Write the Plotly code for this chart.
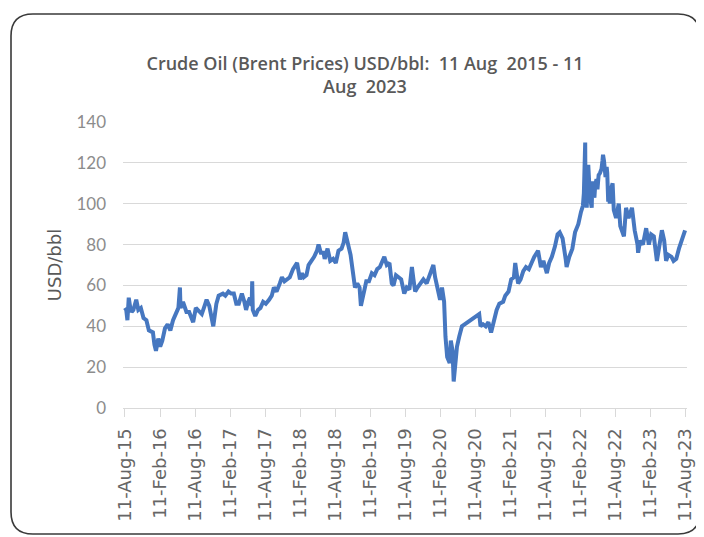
import plotly.graph_objects as go

dates = [
    "2015-08-11", "2015-08-18", "2015-08-24", "2015-08-31", "2015-09-08", "2015-09-15", "2015-09-24",
    "2015-10-05", "2015-10-09", "2015-10-20", "2015-11-02", "2015-11-16", "2015-12-01", "2015-12-14",
    "2016-01-04", "2016-01-12", "2016-01-20", "2016-02-01", "2016-02-11", "2016-02-22", "2016-03-07",
    "2016-03-21", "2016-04-04", "2016-04-18", "2016-05-02", "2016-05-16", "2016-05-24", "2016-05-27",
    "2016-06-09", "2016-06-27", "2016-07-11", "2016-08-01", "2016-08-15", "2016-09-01", "2016-09-15",
    "2016-10-03", "2016-10-10", "2016-10-24", "2016-11-03", "2016-11-14", "2016-11-30", "2016-12-12",
    "2017-01-03", "2017-01-16", "2017-02-01", "2017-02-15", "2017-03-01", "2017-03-14", "2017-03-27",
    "2017-04-12", "2017-04-25", "2017-05-04", "2017-05-15", "2017-05-24", "2017-06-02", "2017-06-05",
    "2017-06-08", "2017-06-21", "2017-07-05", "2017-07-18", "2017-08-01", "2017-08-15", "2017-09-01",
    "2017-09-15", "2017-09-26", "2017-10-10", "2017-10-27", "2017-11-07", "2017-11-20", "2017-12-04",
    "2017-12-18", "2018-01-04", "2018-01-15", "2018-01-25", "2018-02-09", "2018-02-20", "2018-03-01",
    "2018-03-15", "2018-03-26", "2018-04-11", "2018-04-24", "2018-05-09", "2018-05-17", "2018-05-29",
    "2018-06-12", "2018-06-18", "2018-07-03", "2018-07-17", "2018-08-01", "2018-08-15", "2018-08-29",
    "2018-09-14", "2018-09-25", "2018-10-03", "2018-10-17", "2018-10-31", "2018-11-13", "2018-11-23",
    "2018-12-05", "2018-12-17", "2018-12-24", "2019-01-07", "2019-01-21", "2019-02-04", "2019-02-19",
    "2019-03-05", "2019-03-19", "2019-04-02", "2019-04-25", "2019-05-08", "2019-05-22", "2019-06-03",
    "2019-06-12", "2019-06-25", "2019-07-08", "2019-07-22", "2019-08-07", "2019-08-20", "2019-09-03",
    "2019-09-16", "2019-09-24", "2019-10-03", "2019-10-15", "2019-11-01", "2019-11-15", "2019-12-02",
    "2019-12-16", "2019-12-30", "2020-01-06", "2020-01-15", "2020-01-30", "2020-02-10", "2020-02-20",
    "2020-03-02", "2020-03-09", "2020-03-18", "2020-03-31", "2020-04-06", "2020-04-15", "2020-04-21",
    "2020-04-27", "2020-05-08", "2020-05-20", "2020-06-03", "2020-06-17", "2020-07-01", "2020-07-15",
    "2020-08-03", "2020-08-17", "2020-09-01", "2020-09-08", "2020-09-21", "2020-10-05", "2020-10-19",
    "2020-11-02", "2020-11-16", "2020-12-01", "2020-12-15", "2021-01-04", "2021-01-15", "2021-02-01",
    "2021-02-15", "2021-03-01", "2021-03-08", "2021-03-23", "2021-04-05", "2021-04-19", "2021-05-03",
    "2021-05-18", "2021-06-01", "2021-06-15", "2021-07-05", "2021-07-20", "2021-08-02", "2021-08-20",
    "2021-09-01", "2021-09-15", "2021-10-01", "2021-10-15", "2021-10-26", "2021-11-10", "2021-11-26",
    "2021-12-01", "2021-12-15", "2021-12-31", "2022-01-14", "2022-01-31", "2022-02-14", "2022-02-24",
    "2022-03-01", "2022-03-03", "2022-03-07", "2022-03-08", "2022-03-09", "2022-03-11", "2022-03-14",
    "2022-03-16", "2022-03-21", "2022-03-24", "2022-03-29", "2022-04-01", "2022-04-06", "2022-04-11",
    "2022-04-14", "2022-04-19", "2022-04-25", "2022-04-29", "2022-05-06", "2022-05-11", "2022-05-17",
    "2022-05-24", "2022-06-01", "2022-06-06", "2022-06-09", "2022-06-14", "2022-06-22", "2022-06-28",
    "2022-07-01", "2022-07-06", "2022-07-11", "2022-07-14", "2022-07-20", "2022-07-29", "2022-08-04",
    "2022-08-16", "2022-08-30", "2022-09-07", "2022-09-26", "2022-10-07", "2022-10-20", "2022-11-07",
    "2022-11-21", "2022-12-06", "2022-12-09", "2022-12-20", "2023-01-03", "2023-01-20", "2023-02-03",
    "2023-02-15", "2023-03-01", "2023-03-17", "2023-03-31", "2023-04-12", "2023-04-24", "2023-05-04",
    "2023-05-15", "2023-06-01", "2023-06-12", "2023-06-26", "2023-07-10", "2023-07-24", "2023-08-01",
    "2023-08-11",
]

prices = [
    49, 48, 43, 54, 49, 47, 48,
    52, 53, 48, 49, 44, 43, 38,
    37, 31, 28, 34, 30, 33, 39,
    41, 38, 43, 46, 49, 59, 49,
    52, 47, 47, 42, 49, 47, 46,
    51, 53, 50, 45, 40, 51, 55,
    56, 55, 57, 56, 56, 51, 51,
    56, 52, 48, 52, 54, 50, 62,
    48, 45, 48, 49, 52, 51, 53,
    55, 59, 57, 61, 64, 62, 63,
    64, 68, 70, 71, 63, 66, 64,
    65, 70, 72, 74, 77, 80, 76,
    76, 73, 78, 72, 73, 71, 77,
    78, 81, 86, 80, 75, 66, 59,
    61, 59, 50, 57, 62, 62, 66,
    65, 68, 69, 74, 70, 71, 61,
    60, 65, 64, 63, 56, 59, 58,
    69, 63, 57, 59, 61, 63, 61,
    65, 68, 70, 64, 58, 53, 59,
    52, 35, 25, 22, 33, 28, 13,
    19, 30, 35, 40, 41, 42, 43,
    44, 45, 46, 40, 41, 40, 42,
    37, 43, 48, 51, 52, 55, 57,
    63, 64, 71, 61, 63, 67, 69,
    68, 71, 74, 77, 69, 72, 66,
    71, 74, 79, 85, 86, 83, 73,
    69, 74, 78, 86, 90, 96, 99,
    105, 113, 125, 130, 111, 112, 104,
    98, 115, 119, 110, 104, 101, 98,
    111, 106, 103, 109, 112, 107, 114,
    115, 117, 121, 124, 121, 113, 118,
    115, 101, 106, 100, 107, 110, 97,
    93, 100, 89, 84, 98, 93, 98,
    87, 80, 76, 82, 80, 88, 80,
    85, 84, 72, 80, 87, 82, 72,
    75, 74, 72, 73, 78, 82, 85,
    87,
]

tick_dates = [
    "2015-08-11", "2016-02-11", "2016-08-11", "2017-02-11", "2017-08-11", "2018-02-11",
    "2018-08-11", "2019-02-11", "2019-08-11", "2020-02-11", "2020-08-11", "2021-02-11",
    "2021-08-11", "2022-02-11", "2022-08-11", "2023-02-11", "2023-08-11",
]
tick_labels = [
    "11-Aug-15", "11-Feb-16", "11-Aug-16", "11-Feb-17", "11-Aug-17", "11-Feb-18",
    "11-Aug-18", "11-Feb-19", "11-Aug-19", "11-Feb-20", "11-Aug-20", "11-Feb-21",
    "11-Aug-21", "11-Feb-22", "11-Aug-22", "11-Feb-23", "11-Aug-23",
]
y_ticks = [0, 20, 40, 60, 80, 100, 120, 140]

# page has an 8px body margin; work in page pixels and subtract it
OFF = 8
W, H = 704 - OFF, 537 - OFF
L, R, T, B = 123 - OFF, 687 - OFF, 122 - OFF, 408 - OFF  # plot area (figure px)

fig = go.Figure()
fig.add_trace(go.Scatter(
    x=dates, y=prices, mode="lines",
    line=dict(color="#4677c0", width=4),
    showlegend=False, hoverinfo="skip",
))


def px2paper(px, py):
    return (px - OFF - L) / (R - L), (B - (py - OFF)) / (B - T)


def rounded_rect(x0, y0, x1, y1, r):
    def P(x, y):
        a, b = px2paper(x, y)
        return f"{a:.5f},{b:.5f}"
    path = f"M {P(x0 + r, y0)} L {P(x1 - r, y0)} Q {P(x1, y0)} {P(x1, y0 + r)} "
    path += f"L {P(x1, y1 - r)} Q {P(x1, y1)} {P(x1 - r, y1)} "
    path += f"L {P(x0 + r, y1)} Q {P(x0, y1)} {P(x0, y1 - r)} "
    path += f"L {P(x0, y0 + r)} Q {P(x0, y0)} {P(x0 + r, y0)} Z"
    return path


fig.add_shape(type="path", xref="paper", yref="paper",
              path=rounded_rect(11, 14, 700, 534, 22),
              line=dict(color="#3a3a3a", width=1.6), layer="above")

fig.update_layout(
    width=W, height=H,
    margin=dict(l=L, r=W - R, t=T, b=H - B, pad=0, autoexpand=False),
    paper_bgcolor="white", plot_bgcolor="white",
    title=dict(
        text="Crude Oil (Brent Prices) USD/bbl:\u00a0 11 Aug\u00a0 2015 - 11<br>Aug\u00a0 2023",
        x=(365 - OFF) / W, xanchor="center", xref="container",
        y=1 - (70 - OFF) / H, yanchor="middle", yref="container",
        automargin=False,
        font=dict(family="Open Sans", size=18, color="#595959", weight=600),
    ),
    xaxis=dict(
        type="date", automargin=False,
        range=["2015-08-01", "2023-08-21"],
        tickmode="array", tickvals=tick_dates, ticktext=tick_labels,
        tickangle=-90,
        tickfont=dict(family="DejaVu Sans", size=18, color="#666666"),
        ticks="outside", ticklen=8, tickcolor="#d9d9d9", tickwidth=1,
        showgrid=False, showline=False, zeroline=False,
        ticklabelstandoff=4,
    ),
    yaxis=dict(
        range=[0, 140], automargin=False,
        tickmode="array", tickvals=y_ticks,
        tickfont=dict(family="Lato", size=17, color="#8c8c8c"),
        showgrid=True, gridcolor="#d9d9d9", gridwidth=1,
        zeroline=True, zerolinecolor="#d9d9d9", zerolinewidth=1,
        showline=False, ticks="",
        ticklabelstandoff=16,
        title=dict(text="USD/bbl", standoff=10,
                   font=dict(family="DejaVu Sans", size=18, color="#595959")),
    ),
)

fig.write_html("out.html")
